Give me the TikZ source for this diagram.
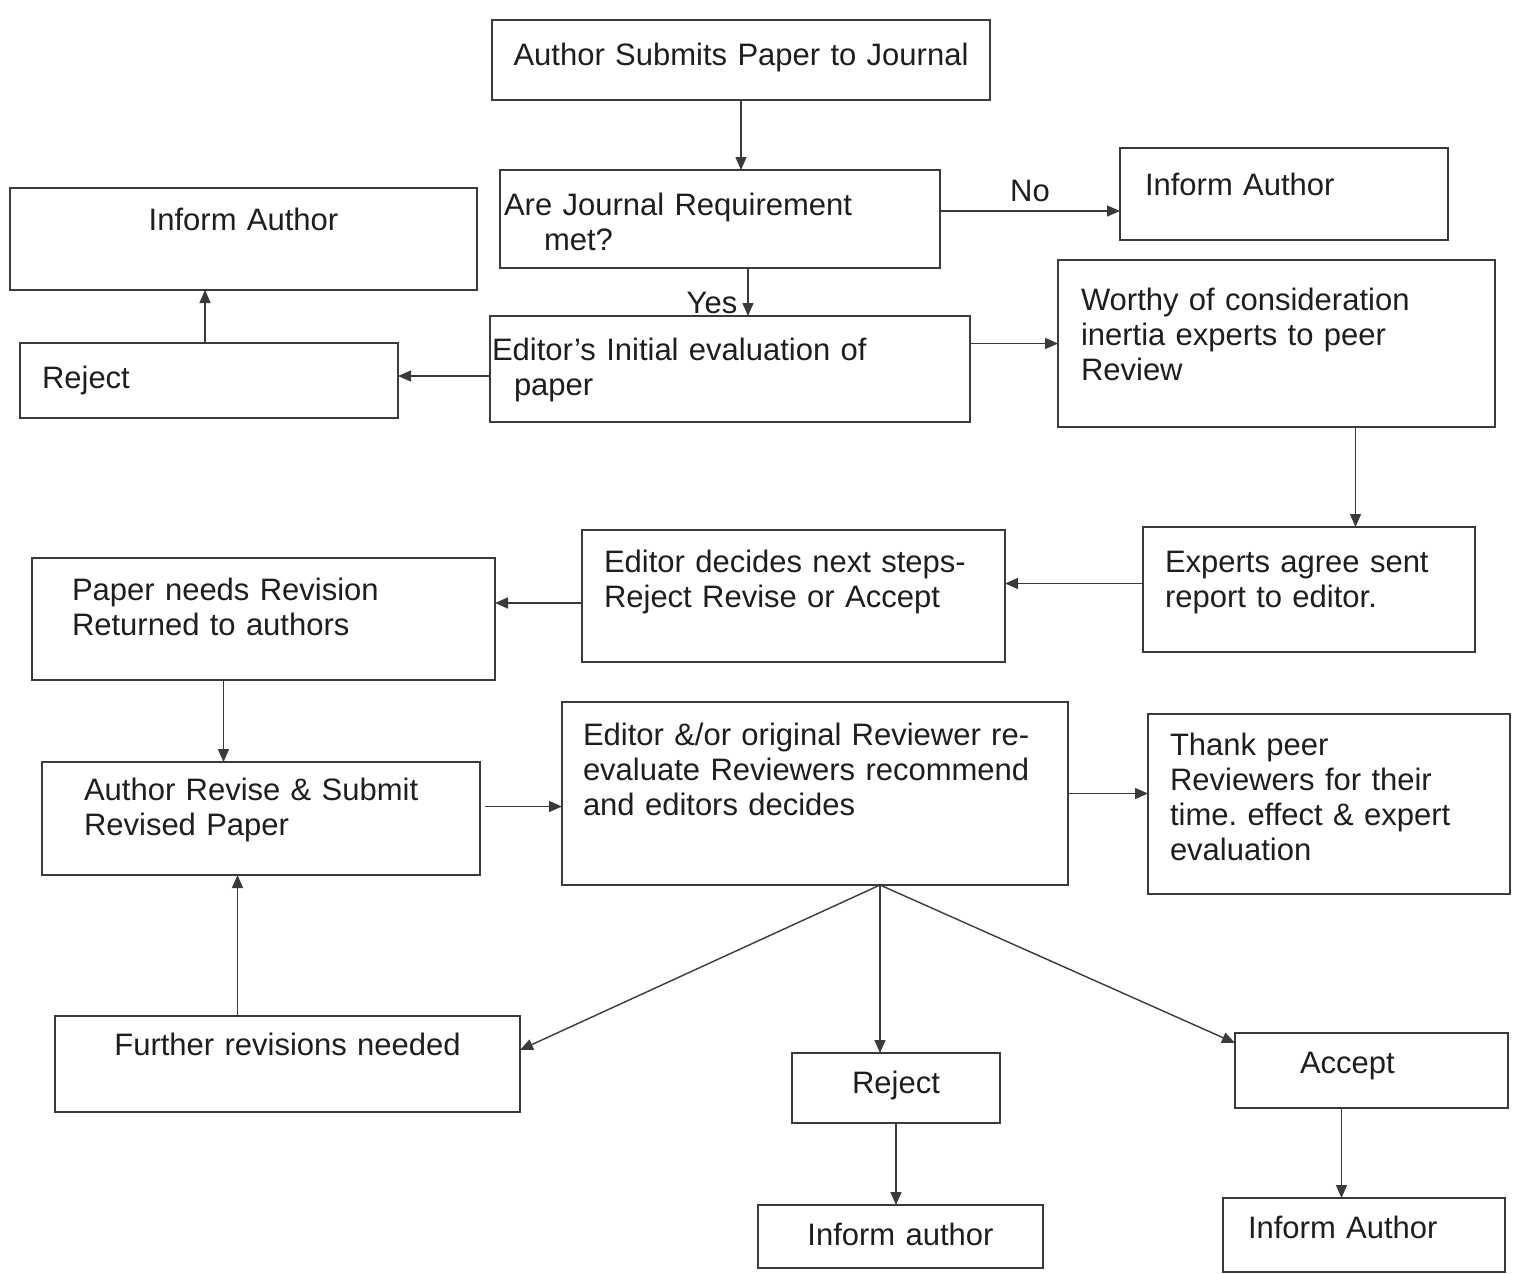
\documentclass[tikz,border=0pt]{standalone}
\usepackage{fontspec}
\setmainfont{Liberation Sans}
\usetikzlibrary{arrows.meta}
\definecolor{cline}{HTML}{3A3A3A}
\definecolor{ctext}{HTML}{1E1E1E}
\frenchspacing
\tikzset{
  every picture/.style={font=\fontsize{31}{35}\selectfont, line width=1.5pt},
  box/.style={draw=cline, text=ctext, line width=1.8pt, anchor=north west, align=left, inner ysep=0pt, outer sep=0pt},
  mid/.style={align=center, inner xsep=10pt},
  arrow/.style={-{Triangle[length=13pt, width=11pt]}, draw=cline, line width=1.4pt},
  note/.style={text=ctext, inner sep=2pt},
}

\begin{document}
\begin{tikzpicture}[x=1pt, y=-1pt]
  \fill[white] (0,0) rectangle (1513,1274);
  % boxes: top left corner, text width = width - 2 inner xsep, text height + text depth = height
  \node[box, mid, text width=478pt, text height=45pt, text depth=35pt] (submit) at (492,20) {Author Submits Paper to Journal};
  \node[box, inner xsep=4pt, text width=432pt, text height=45pt, text depth=53pt] (req) at (500,170) {Are Journal Requirement\\\hspace*{40pt}met?};
  \node[box, inner xsep=25pt, text width=278pt, text height=47pt, text depth=45pt] (informR) at (1120,148) {Inform Author};
  \node[box, mid, text width=447pt, text height=42pt, text depth=60pt] (informL) at (10,188) {Inform Author};
  \node[box, inner xsep=22pt, text width=334pt, text height=45pt, text depth=30pt] (rejectL) at (20,343) {Reject};
  \node[box, inner xsep=2pt, text width=476pt, text height=44pt, text depth=62pt] (initial) at (490,316) {Editor's Initial evaluation of\\\hspace*{22pt}paper};
  \node[box, inner xsep=23pt, text width=391pt, text height=50pt, text depth=117pt] (worthy) at (1058,260) {Worthy of consideration\\inertia experts to peer\\Review};
  % middle row
  \node[box, inner xsep=22pt, text width=288pt, text height=45pt, text depth=80pt] (experts) at (1143,527) {Experts agree sent\\report to editor.};
  \node[box, inner xsep=22pt, text width=379pt, text height=42pt, text depth=90pt] (next) at (582,530) {Editor decides next steps-\\Reject Revise or Accept};
  \node[box, inner xsep=40pt, text width=383pt, text height=42pt, text depth=80pt] (revision) at (32,558) {Paper needs Revision\\Returned to authors};
  \node[box, inner xsep=42pt, text width=354pt, text height=38pt, text depth=75pt] (revise) at (42,762) {Author Revise \& Submit\\Revised Paper};
  \node[box, inner xsep=21pt, text width=464pt, text height=43pt, text depth=140pt] (reeval) at (562,702) {Editor \&/or original Reviewer re-\\evaluate Reviewers recommend\\and editors decides};
  \node[box, inner xsep=22pt, text width=318pt, text height=41pt, text depth=139pt] (thank) at (1148,714) {Thank peer\\Reviewers for their\\time. effect \& expert\\evaluation};
  % bottom row
  \node[box, mid, text width=445pt, text height=39pt, text depth=57pt] (further) at (55,1016) {Further revisions needed};
  \node[box, mid, text width=188pt, text height=40pt, text depth=30pt] (rejectB) at (792,1053) {Reject};
  \node[box, inner xsep=65pt, text width=143pt, text height=40pt, text depth=35pt] (accept) at (1235,1033) {Accept};
  \node[box, mid, text width=265pt, text height=40pt, text depth=23pt] (informA) at (758,1205) {Inform author};
  \node[box, inner xsep=25pt, text width=232pt, text height=40pt, text depth=34pt] (informB) at (1223,1198) {Inform Author};

  % connectors
  \draw[arrow] (submit.south) -- (submit.south |- req.north);
  \coordinate (no) at ([yshift=8pt]req.east);
  \draw[arrow] (no) -- (no -| informR.west) node[note, midway, above=6pt] {No};
  \coordinate (yes) at ([xshift=28pt]req.south);
  \draw[arrow] (yes) -- (yes |- initial.north) node[note, pos=0.72, left=8pt] {Yes};
  \coordinate (rj) at ([yshift=-7pt]initial.west);
  \draw[arrow] (rj) -- (rj -| rejectL.east);
  \coordinate (ia) at ([xshift=-4pt]rejectL.north);
  \draw[arrow] (ia) -- (ia |- informL.south);
  \draw[arrow] (initial.east |- worthy.west) -- (worthy.west);
  \coordinate (wx) at ([xshift=79pt]worthy.south);
  \draw[arrow] (wx) -- (wx |- experts.north);
  \coordinate (ex) at ([yshift=6pt]experts.west);
  \draw[arrow] (ex) -- (ex -| next.east);
  \coordinate (nx) at ([yshift=-7pt]next.west);
  \draw[arrow] (nx) -- (nx -| revision.east);
  \coordinate (rv) at ([xshift=-40pt]revision.south);
  \draw[arrow] (rv) -- (rv |- revise.north);
  \coordinate (rs) at ([xshift=5pt, yshift=12pt]revise.east);
  \draw[arrow] (rs) -- (rs -| reeval.west);
  \draw[arrow] (reeval.east) -- (reeval.east -| thank.west);
  \coordinate (fork) at ([xshift=65pt]reeval.south);
  \draw[arrow] (fork) -- ([yshift=14pt]further.east);
  \draw[arrow] (fork) -- (fork |- rejectB.north);
  \draw[arrow] (fork) -- ([yshift=-10pt]accept.north west);
  \coordinate (fr) at ([xshift=-50pt]further.north);
  \draw[arrow] (fr) -- (fr |- revise.south);
  \draw[arrow] (rejectB.south) -- (rejectB.south |- informA.north);
  \coordinate (ac) at ([xshift=-30pt]accept.south);
  \draw[arrow] (ac) -- (ac |- informB.north);
\end{tikzpicture}
\end{document}
